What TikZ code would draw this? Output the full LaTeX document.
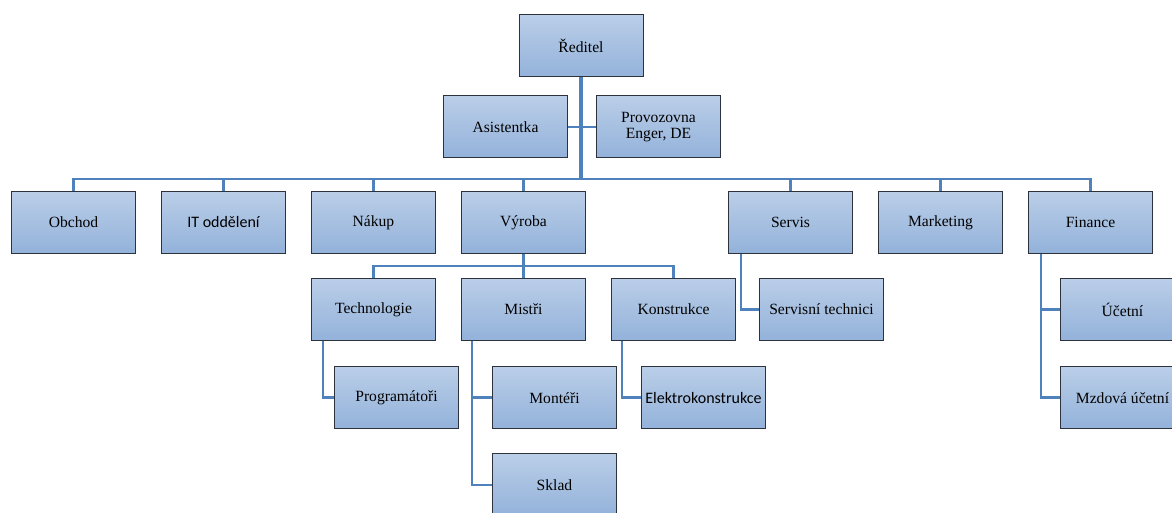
\documentclass[tikz,border=0pt]{standalone}
\usepackage{fontspec}
\setmainfont{Liberation Serif}
\newfontfamily\calibri{Carlito}
\usetikzlibrary{positioning,calc}
\definecolor{boxtop}{RGB}{186,206,232}
\definecolor{boxbottom}{RGB}{147,178,218}
\definecolor{boxline}{RGB}{45,50,60}
\definecolor{linkblue}{RGB}{79,129,189}

\begin{document}
\begin{tikzpicture}[x=0.75pt, y=-0.75pt, unit/.style={rectangle, draw=boxline, line width=0.75pt, top color=boxtop, bottom color=boxbottom, minimum width=93pt, minimum height=46.5pt, align=center, inner sep=1pt, font=\rmfamily\fontsize{11.7}{11.4}\selectfont}, link/.style={draw=linkblue, line width=2pt}]

\useasboundingbox (0,0) rectangle (1172,513);
\clip (0,0) rectangle (1172,513);

% UNITS

\node [unit] (reditel) at (581,46) {Ředitel};

\node [unit, below=13.5pt of reditel.south, anchor=north east, xshift=-9.75pt] (asistentka) {Asistentka};
\node [unit, below=13.5pt of reditel.south, anchor=north west, xshift=11.25pt] (provozovna) {Provozovna\\Enger, DE};

\node [unit] (obchod) at (73.5,222.5) {Obchod};
\node [unit, right=18.75pt of obchod] (it) {\calibri\fontsize{12}{14}\selectfont IT oddělení};
\node [unit, right=18.75pt of it] (nakup) {Nákup};
\node [unit, right=18.75pt of nakup] (vyroba) {Výroba};

\node [unit] (finance) at (1090.5,222.5) {Finance};
\node [unit, left=18.75pt of finance] (marketing) {Marketing};
\node [unit, left=18.75pt of marketing] (servis) {Servis};

\node [unit, below=18pt of vyroba] (mistri) {Mistři};
\node [unit, left=18.75pt of mistri] (technologie) {Technologie};
\node [unit, right=18.75pt of mistri] (konstrukce) {Konstrukce};

\node [unit, below=19pt of technologie.south west, anchor=north west, xshift=17.25pt] (programatori) {Programátoři};
\node [unit, below=19pt of mistri.south west, anchor=north west, xshift=23.25pt] (konteri) {Montéři};
\node [unit, below=18pt of konteri] (sklad) {Sklad};
\node [unit, below=19pt of konstrukce.south west, anchor=north west, xshift=22.5pt] (elektro) {\calibri\fontsize{12}{14}\selectfont Elektrokonstrukce};

\node [unit, below=18pt of servis.south west, anchor=north west, xshift=23.25pt] (technici) {Servisní technici};

\node [unit, below=18pt of finance.south west, anchor=north west, xshift=24pt] (ucetni) {Účetní};
\node [unit, below=19pt of ucetni] (mzdova) {Mzdová účetní};

% LINKS

\coordinate (bus) at (581,179);
\coordinate [below=9pt of vyroba.south] (vyrobabus);

\draw[link, line width=2.4pt] (reditel.south) -- (reditel.south |- bus);
\draw[link, line width=1.5pt] (asistentka.east) -- (provozovna.west);

\draw[link] (obchod.north) |- (bus) -| (finance.north);
\foreach \u in {it,nakup,vyroba,servis,marketing}
  \draw[link] (\u.north) -- (\u.north |- bus);

\draw[link] (technologie.north) |- (vyrobabus) -| (konstrukce.north);
\draw[link] (vyroba.south) -- (mistri.north);

\draw[link] ([xshift=9pt]technologie.south west) |- (programatori.west);
\draw[link] ([xshift=8.25pt]mistri.south west) |- (sklad.west);
\draw[link] ([xshift=8.25pt]mistri.south west |- konteri.west) -- (konteri.west);
\draw[link] ([xshift=8.25pt]konstrukce.south west) |- (elektro.west);
\draw[link] ([xshift=9.75pt]servis.south west) |- (technici.west);
\draw[link] ([xshift=9.75pt]finance.south west) |- (mzdova.west);
\draw[link] ([xshift=9.75pt]finance.south west |- ucetni.west) -- (ucetni.west);

\end{tikzpicture}
\end{document}
